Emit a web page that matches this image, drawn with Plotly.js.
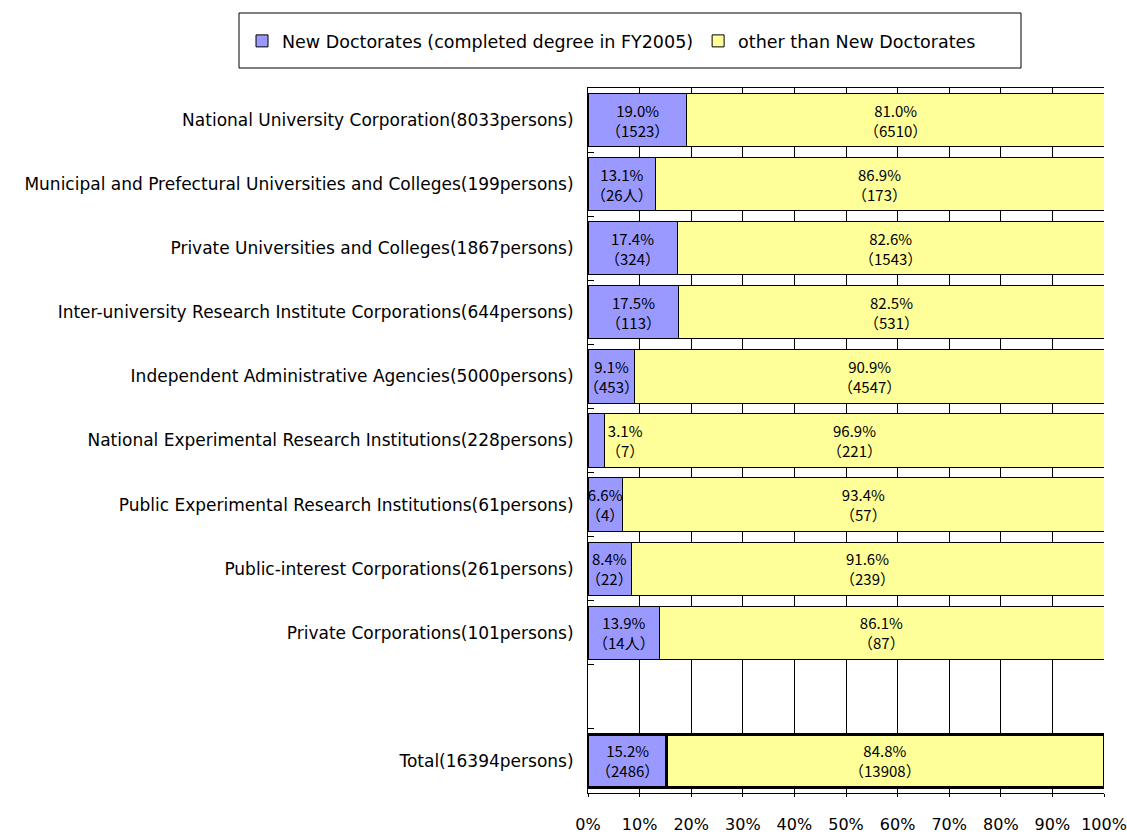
<!DOCTYPE html>
<html>
<head>
<meta charset="utf-8">
<script src="https://cdn.plot.ly/plotly-3.0.1.min.js"></script>
<style>html,body{margin:0;padding:0;background:#fff;}#chart{width:1127px;height:834px;}</style>
</head>
<body>
<div id="chart"></div>
<script>
const categories = [
  "National University Corporation(8033persons)",
  "Municipal and Prefectural Universities and Colleges(199persons)",
  "Private Universities and Colleges(1867persons)",
  "Inter-university Research Institute Corporations(644persons)",
  "Independent Administrative Agencies(5000persons)",
  "National Experimental Research Institutions(228persons)",
  "Public Experimental Research Institutions(61persons)",
  "Public-interest Corporations(261persons)",
  "Private Corporations(101persons)",
  " ",
  "Total(16394persons)"
];
const newPct   = [19.0, 13.1, 17.4, 17.5, 9.1, 3.1, 6.6, 8.4, 13.9, null, 15.2];
const otherPct = [81.0, 86.9, 82.6, 82.5, 90.9, 96.9, 93.4, 91.6, 86.1, null, 84.8];
const newCount   = ["1523", "26人", "324", "113", "453", "7", "4", "22", "14人", "", "2486"];
const otherCount = ["6510", "173", "1543", "531", "4547", "221", "57", "239", "87", "", "13908"];
const seriesNames = ["New Doctorates (completed degree in FY2005)", "other than New Doctorates"];
const xTicks = [0,10,20,30,40,50,60,70,80,90,100];

const LFONT = "'DejaVu Sans', 'Noto Sans CJK JP', sans-serif";
const BFONT = "'Noto Sans CJK JP', 'Noto Sans', sans-serif";
const lineW = categories.map(c => c.startsWith("Total") ? 2.5 : 1);

const traces = [
  {type:'bar', orientation:'h', name:seriesNames[0], y:categories, x:newPct,
   marker:{color:'#9999FF', line:{color:'#000', width:lineW}}, hoverinfo:'skip'},
  {type:'bar', orientation:'h', name:seriesNames[1], y:categories, x:otherPct,
   marker:{color:'#FFFF99', line:{color:'#000', width:lineW}}, hoverinfo:'skip'}
];

const annotations = [];
categories.forEach((c, i) => {
  if (newPct[i] == null) return;
  const small = newPct[i] < 5;
  annotations.push({x: small ? newPct[i] : newPct[i]/2, y:c, xref:'x', yref:'y',
    text: newPct[i].toFixed(1) + "%<br>（" + newCount[i] + "）",
    showarrow:false, xanchor: small ? 'left' : 'center', font:{size:15, family:BFONT, color:'#000'}});
  annotations.push({x: newPct[i] + otherPct[i]/2, y:c, xref:'x', yref:'y',
    text: otherPct[i].toFixed(1) + "%<br>（" + otherCount[i] + "）",
    showarrow:false, xanchor:'center', font:{size:15, family:BFONT, color:'#000'}});
});

const layout = {
  width:1127, height:834,
  paper_bgcolor:'#fff', plot_bgcolor:'#fff',
  margin:{l:588, r:23, t:88, b:41},
  barmode:'stack', bargap:0.17,
  font:{family:LFONT, size:17, color:'#000'},
  showlegend:true,
  legend:{orientation:'h', xref:'paper', yref:'paper',
    x:(242-588)/516, xanchor:'left', y:(793-41)/705, yanchor:'middle',
    traceorder:'normal', borderwidth:0, bgcolor:'rgba(0,0,0,0)',
    font:{size:17.5, family:LFONT}},
  shapes:[{type:'rect', xref:'paper', yref:'paper',
    x0:(239-588)/516, x1:(1021-588)/516, y0:(793-68)/705, y1:(793-13)/705,
    line:{color:'#000', width:1}, fillcolor:'rgba(0,0,0,0)'}],
  xaxis:{range:[0,100], tickvals:xTicks, ticktext:xTicks.map(v => v + "%"),
    showgrid:true, gridcolor:'#000', gridwidth:1, zeroline:false,
    showline:true, linecolor:'#000', linewidth:1, mirror:true,
    ticks:'outside', ticklen:3, tickcolor:'#000', ticklabelstandoff:14,
    tickfont:{size:16, family:LFONT}, fixedrange:true},
  yaxis:{type:'category', categoryorder:'array', categoryarray:categories,
    autorange:'reversed', showline:true, linecolor:'#000', linewidth:1,
    ticks:'inside', tickson:'boundaries', ticklen:6, tickcolor:'#000',
    showgrid:false, ticklabelstandoff:10,
    tickfont:{size:17, family:LFONT}, fixedrange:true},
  annotations: annotations
};

Plotly.newPlot('chart', traces, layout, {displayModeBar:false, staticPlot:true});
</script>
</body>
</html>
